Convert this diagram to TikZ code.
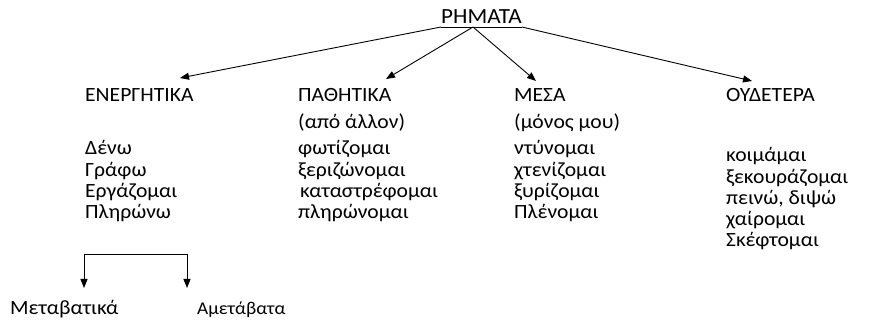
\documentclass[tikz,border=0pt]{standalone}
\usepackage{fontspec}
\setmainfont{Carlito}[FakeStretch=1.07]
\usetikzlibrary{arrows.meta}
\tikzset{
  lbl/.style={anchor=base west, inner sep=0pt, font=\fontsize{20.2}{24}\selectfont},
  arr/.style={line width=0.9pt, -{Triangle[length=9pt,width=7pt]}},
  ln/.style={line width=0.9pt}
}
\begin{document}
\begin{tikzpicture}[x=1pt,y=-1pt]
\useasboundingbox (0,0) rectangle (878,320);
% title
\node[lbl, font=\fontsize{21.6}{26}\selectfont] (rim) at (441,24) {ΡΗΜΑΤΑ};
\coordinate (ul) at (441,27);
\coordinate (ur) at (522,27);
\coordinate (um) at (473,27);
\draw[ln] (ul) -- (ur);
% headers
\node[lbl] (ener) at (85,102) {ΕΝΕΡΓΗΤΙΚΑ};
\node[lbl] (path) at (298,102) {ΠΑΘΗΤΙΚΑ};
\node[lbl] (mesa) at (514,102) {ΜΕΣΑ};
\node[lbl] (oud) at (726,102) {ΟΥΔΕΤΕΡΑ};
\coordinate (t1) at (180,78);
\coordinate (t2) at (386,79);
\coordinate (t3) at (536,81);
\coordinate (t4) at (752,81);
\draw[arr] (ul) -- (t1);
\draw[arr] (um) -- (t2);
\draw[arr] (um) -- (t3);
\draw[arr] (ur) -- (t4);
% column 1
\node[lbl] (e1) at (85,155) {Δένω};
\node[lbl] (e2) at (85,177) {Γράφω};
\node[lbl] (e3) at (85,198) {Εργάζομαι};
\node[lbl] (e4) at (85,219) {Πληρώνω};
% column 2
\node[lbl] (p0) at (298,129) {(από άλλον)};
\node[lbl] (p1) at (298,155) {φωτίζομαι};
\node[lbl] (p2) at (298,177) {ξεριζώνομαι};
\node[lbl] (p3) at (300,198) {καταστρέφομαι};
\node[lbl] (p4) at (298,219) {πληρώνομαι};
% column 3
\node[lbl] (m0) at (514,129) {(μόνος μου)};
\node[lbl] (m1) at (514,155) {ντύνομαι};
\node[lbl] (m2) at (514,177) {χτενίζομαι};
\node[lbl] (m3) at (514,198) {ξυρίζομαι};
\node[lbl] (m4) at (514,219) {Πλένομαι};
% column 4
\node[lbl] (o1) at (726,162) {κοιμάμαι};
\node[lbl] (o2) at (726,184) {ξεκουράζομαι};
\node[lbl] (o3) at (726,205) {πεινώ, διψώ};
\node[lbl] (o4) at (726,226) {χαίρομαι};
\node[lbl] (o5) at (726,247) {Σκέφτομαι};
% bottom bracket
\node[lbl] (met) at (10,314) {Μεταβατικά};
\node[lbl, font=\fontsize{18}{22}\selectfont] (amet) at (197,314) {Αμετάβατα};
\coordinate (bl) at (84,254);
\coordinate (br) at (187,254);
\coordinate (bt1) at (84,288);
\coordinate (bt2) at (187,288);
\draw[ln] (bl) -- (br);
\draw[arr] (bl) -- (bt1);
\draw[arr] (br) -- (bt2);
\end{tikzpicture}
\end{document}
